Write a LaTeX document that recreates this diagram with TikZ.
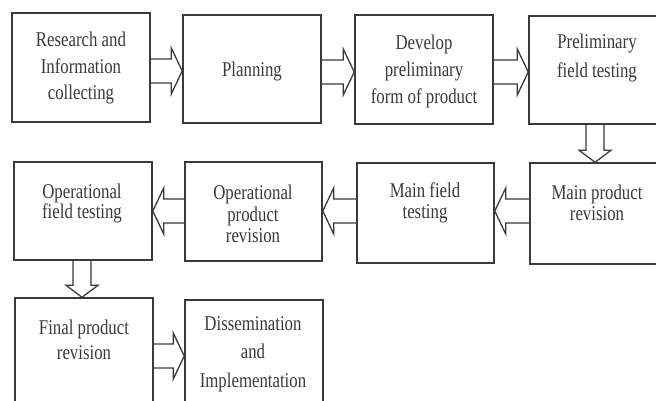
\documentclass[tikz,border=0pt]{standalone}
\usepackage{fontspec}
\setmainfont[FakeStretch=0.8]{Liberation Serif}
\usetikzlibrary{fit,calc}
\definecolor{ink}{HTML}{3A3A3A}
\tikzset{
  box/.style={draw=ink, line width=1.5pt, inner sep=0pt, fill=white},
  lbl/.style={text=ink, align=center, inner sep=0pt},
  arr/.style={draw=ink, line width=1.3pt, line join=miter},
}
\newcommand\fs[1]{\fontsize{21}{#1}\selectfont}
% horizontal arrow: from node #1 to node #2 at height #3, direction #4 (1 right, -1 left)
\newcommand\harr[4]{%
  \coordinate (ta) at (#1 |- 0,#3);
  \coordinate (hd) at (#2 |- 0,#3);
  \draw[arr] ($(ta)+(0,-12)$) -- ($(hd)+(-11*#4,-12)$) -- ($(hd)+(-11*#4,-23)$) -- (hd)
     -- ($(hd)+(-11*#4,23)$) -- ($(hd)+(-11*#4,12)$) -- ($(ta)+(0,12)$);
}
% vertical (downward) arrow
\newcommand\varr[3]{%
  \coordinate (ta) at (#1 -| #3,0);
  \coordinate (hd) at (#2 -| #3,0);
  \draw[arr] ($(ta)+(-9,0)$) -- ($(hd)+(-9,-12)$) -- ($(hd)+(-16,-12)$) -- (hd)
     -- ($(hd)+(16,-12)$) -- ($(hd)+(9,-12)$) -- ($(ta)+(9,0)$);
}
\begin{document}
\begin{tikzpicture}[x=1pt,y=-1pt]
\clip (0,0) rectangle (656,401);
\fill[white] (0,0) rectangle (656,401);
% boxes
\node[box, fit={(12,13) (150,122)}] (b1) {};
\node[box, fit={(183,15) (321,123)}] (b2) {};
\node[box, fit={(355,15) (493,124)}] (b3) {};
\node[box, fit={(529,16) (667,124)}] (b4) {};
\node[box, fit={(530,163) (668,264)}] (b5) {};
\node[box, fit={(357,163) (494,263)}] (b6) {};
\node[box, fit={(185,162) (322,261)}] (b7) {};
\node[box, fit={(14,162) (152,260)}] (b8) {};
\node[box, fit={(15,298) (153,430)}] (b9) {};
\node[box, fit={(185,300) (323,430)}] (b10) {};
% texts
\node[lbl, font=\fs{26.5}] (t1) at (81,68) {Research and\\Information\\collecting};
\node[lbl, font=\fs{26}] (t2) at (252,71) {Planning};
\node[lbl, font=\fs{27}] (t3) at (424,71) {Develop\\preliminary\\form of product};
\node[lbl, font=\fs{29}] (t4) at (597,58) {Preliminary\\field testing};
\node[lbl, font=\fs{21}] (t5) at (597,203) {Main product\\revision};
\node[lbl, font=\fs{21}] (t6) at (425,203) {Main field\\testing};
\node[lbl, font=\fs{21.5}] (t7) at (253,214) {Operational\\product\\revision};
\node[lbl, font=\fs{20}] (t8) at (82,203) {Operational\\field testing};
\node[lbl, font=\fs{25}] (t9) at (84,340) {Final product\\revision};
\node[lbl, font=\fs{28.5}] (t10) at (253,354) {Dissemination\\and\\Implementation};
% arrows
\harr{b1.east}{b2.west}{71}{1}
\harr{b2.east}{b3.west}{72}{1}
\harr{b3.east}{b4.west}{72}{1}
\varr{b4.south}{b5.north}{595}
\harr{b5.west}{b6.east}{211}{-1}
\harr{b6.west}{b7.east}{211}{-1}
\harr{b7.west}{b8.east}{211}{-1}
\varr{b8.south}{b9.north}{82}
\harr{b9.east}{b10.west}{356}{1}
\end{tikzpicture}
\end{document}
